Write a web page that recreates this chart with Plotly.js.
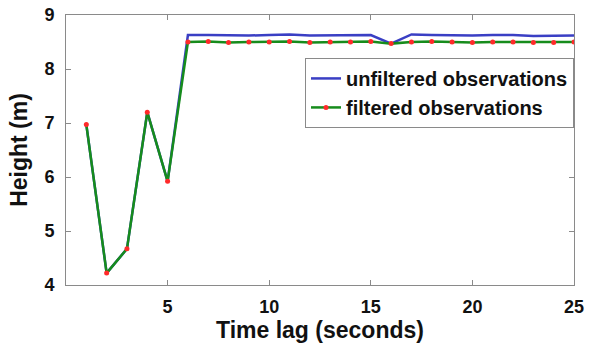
<!DOCTYPE html>
<html><head><meta charset="utf-8">
<script src="https://cdn.plot.ly/plotly-3.0.1.min.js"></script>
<style>html,body{margin:0;padding:0;background:#fff}#c{width:591px;height:345px}</style>
</head><body><div id="c"></div>
<script>
const timeLag = [1,2,3,4,5,6,7,8,9,10,11,12,13,14,15,16,17,18,19,20,21,22,23,24,25];
const unfiltered = [6.97,4.22,4.67,7.2,5.92,8.63,8.63,8.62,8.62,8.63,8.64,8.62,8.62,8.63,8.63,8.47,8.64,8.63,8.62,8.62,8.63,8.63,8.61,8.61,8.62];
const filtered = [6.97,4.22,4.67,7.2,5.92,8.5,8.51,8.49,8.5,8.5,8.51,8.49,8.5,8.5,8.51,8.47,8.5,8.51,8.5,8.49,8.5,8.5,8.49,8.49,8.5];
const xTicks = [5,10,15,20,25];
const yTicks = [4,5,6,7,8,9];

const FONT = 'Liberation Sans, Arial, sans-serif';
const traces = [
  {x: timeLag, y: unfiltered, mode: 'lines', name: 'unfiltered observations',
   line: {color: '#3a3fc4', width: 2.5}},
  {x: timeLag, y: filtered, mode: 'lines+markers', name: 'filtered observations',
   line: {color: '#168c1c', width: 2.5}, marker: {color: '#ff2a2a', size: 5}}
];
const axisCommon = {showgrid: false, zeroline: false, showline: true, mirror: 'ticks',
  linecolor: '#8a8a8a', linewidth: 1, ticks: 'inside', ticklen: 5, tickcolor: '#8a8a8a',
  tickfont: {family: FONT, size: 18, color: '#111', weight: 'bold'}};
const layout = {
  width: 591, height: 345,
  margin: {l: 66, r: 17, t: 15, b: 60},
  paper_bgcolor: '#fff', plot_bgcolor: '#fff',
  font: {family: FONT, color: '#111'},
  xaxis: Object.assign({}, axisCommon, {range: [0, 25], tickvals: xTicks, ticktext: xTicks.map(v => '<b>' + v + '</b>'),
    ticklabelstandoff: 5,
    title: {text: 'Time lag (seconds)', font: {size: 23, color: '#111', weight: 'bold'}, standoff: 4}}),
  yaxis: Object.assign({}, axisCommon, {range: [4, 9], tickvals: yTicks, ticktext: yTicks.map(v => '<b>' + v + '</b>'),
    ticklabelstandoff: 7,
    title: {text: 'Height (m)', font: {size: 23, color: '#111', weight: 'bold'}, standoff: 10}}),
  showlegend: true,
  legend: {x: 1, xanchor: 'right', y: 0.841, yanchor: 'top', bgcolor: '#fff',
    bordercolor: '#8a8a8a', borderwidth: 1, tracegroupgap: 0,
    font: {family: FONT, size: 20, color: '#111', weight: 'bold'},
    itemwidth: 30}
};
Plotly.newPlot('c', traces, layout, {displayModeBar: false, staticPlot: true});
</script></body></html>
